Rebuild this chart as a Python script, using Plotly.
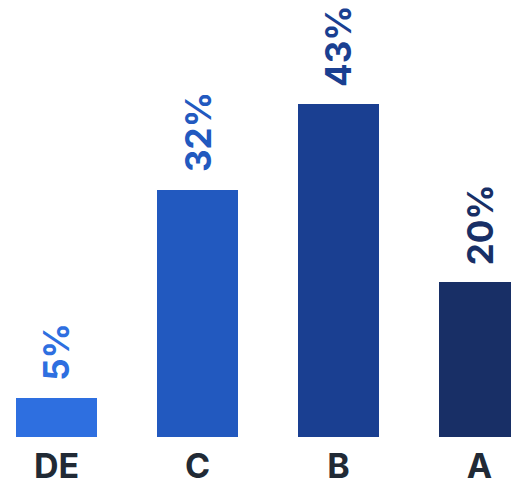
import plotly.graph_objects as go

categories = ["DE", "C", "B", "A"]
shares = [5, 32, 43, 20]
bar_colors = ["#2e6fe0", "#2259bf", "#1a3f91", "#182f66"]

fig = go.Figure()
fig.add_trace(go.Bar(
    x=categories,
    y=shares,
    marker=dict(color=bar_colors, line=dict(width=0)),
    width=0.574,
    hoverinfo="skip",
))

for cat, val, col in zip(categories, shares, bar_colors):
    fig.add_annotation(
        x=cat, y=val, text=f"{val}%", showarrow=False,
        textangle=-90, xanchor="center", yanchor="bottom", yshift=15,
        font=dict(family="Inter", size=35, color=col, weight="bold"),
    )

fig.update_layout(
    width=511, height=487,
    margin=dict(l=0, r=0, t=0, b=50),
    paper_bgcolor="white", plot_bgcolor="white",
    showlegend=False,
    bargap=0,
    xaxis=dict(
        range=[-0.4007, 3.2234],
        automargin=False,
        showgrid=False, zeroline=False, showline=False, ticks="",
        tickfont=dict(family="Inter", size=34, color="#212a35", weight="bold"),
        ticklabelstandoff=6,
    ),
    yaxis=dict(
        range=[0, 56.5], visible=False, automargin=False,
    ),
)

fig.write_html("out.html")
